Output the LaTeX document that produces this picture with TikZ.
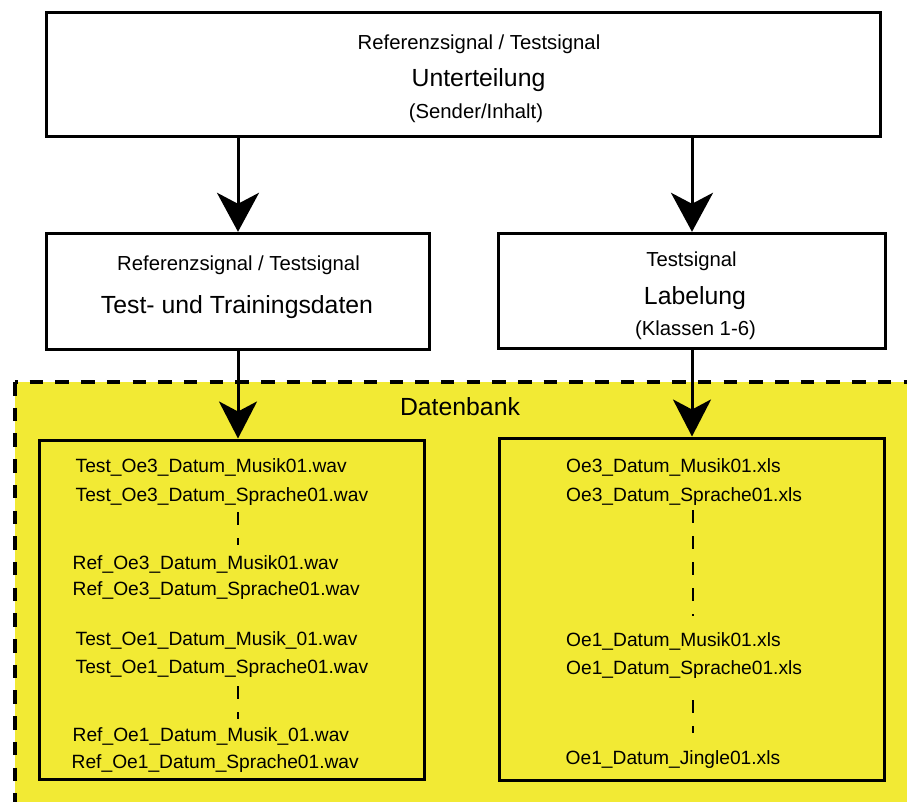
\documentclass[tikz,border=0pt]{standalone}
\usepackage{fontspec}
\setmainfont{Liberation Sans}
\usetikzlibrary{arrows.meta}
\definecolor{dbyellow}{RGB}{242,234,52}

\begin{document}
\begin{tikzpicture}[x=1pt,y=-1pt,
  framebox/.style={draw=black, line width=3pt, inner sep=0pt},
  lbl/.style={inner sep=0pt, anchor=base, font=\fontsize{20.3}{24}\selectfont},
  title/.style={inner sep=0pt, anchor=base, font=\fontsize{24.8}{30}\selectfont},
  fname/.style={inner sep=0pt, anchor=base west, font=\fontsize{19.2}{23}\selectfont},
  flow/.style={line width=3pt, -{Stealth[length=39pt, width=42pt, inset=11pt]}},
  flowin/.style={line width=3pt, -{Stealth[length=37pt, width=38pt, inset=10pt]}},
  dbborder/.style={line width=3.5pt, dash pattern=on 13.5pt off 12.2pt},
  gap/.style={line width=2.6pt, dash pattern=on 13pt off 13pt}]

\useasboundingbox (0,0) rectangle (907,801);

% database area (open towards the right and bottom edges)
\begin{scope}
  \clip (0,0) rectangle (907,801);
  \fill[dbyellow] (15,382) rectangle (940,840);
  \coordinate (dbcorner) at (15,382);
  \coordinate (dbleft) at (15,840);
  \coordinate (dbtop) at (940,382);
  \draw[dbborder] (dbcorner) -- (dbleft);
  \draw[dbborder, dash phase=11pt] (dbcorner) -- (dbtop);
\end{scope}
\node[title] (db) at (460,415.7) {Datenbank};

% processing boxes
\node[framebox, minimum width=833.3pt, minimum height=124.4pt] (split) at (463.4,74.5) {};
\node[framebox, minimum width=382.6pt, minimum height=116pt] (train) at (238,291.3) {};
\node[framebox, minimum width=387.4pt, minimum height=115pt] (label) at (692,290.8) {};

% storage boxes
\node[framebox, minimum width=385pt, minimum height=339pt] (wavs) at (231.5,609.5) {};
\node[framebox, minimum width=385pt, minimum height=342pt] (xlss) at (691.5,609) {};

% box captions
\node[lbl] (splitA) at (479,49.3) {Referenzsignal / Testsignal};
\node[title] (splitB) at (478.5,86.7) {Unterteilung};
\node[lbl] (splitC) at (476,118) {(Sender/Inhalt)};

\node[lbl] (trainA) at (238.5,270) {Referenzsignal / Testsignal};
\node[title] (trainB) at (237,313.3) {Test- und Trainingsdaten};

\node[lbl] (labelA) at (691.5,266) {Testsignal};
\node[title] (labelB) at (695,304.3) {Labelung};
\node[lbl] (labelC) at (695.5,335) {(Klassen 1-6)};

% flow arrows
\draw[flow] (split.south -| train.north) -- (train.north);
\draw[flow] (split.south -| label.north) -- (label.north);
\draw[flowin] (train.south) -- (train.south |- wavs.north);
\draw[flowin] (label.south) -- (label.south |- xlss.north);

% audio files
\node[fname] (w1) at (75.5,472.3) {Test\_Oe3\_Datum\_Musik01.wav};
\node[fname] (w2) at (75.5,501) {Test\_Oe3\_Datum\_Sprache01.wav};
\node[fname] (w3) at (72.5,569.3) {Ref\_Oe3\_Datum\_Musik01.wav};
\node[fname] (w4) at (72.5,595.5) {Ref\_Oe3\_Datum\_Sprache01.wav};
\node[fname] (w5) at (75.5,645) {Test\_Oe1\_Datum\_Musik\_01.wav};
\node[fname] (w6) at (75.5,673.5) {Test\_Oe1\_Datum\_Sprache01.wav};
\node[fname] (w7) at (72.5,741.7) {Ref\_Oe1\_Datum\_Musik\_01.wav};
\node[fname] (w8) at (71.5,768.3) {Ref\_Oe1\_Datum\_Sprache01.wav};

% label files
\node[fname] (x1) at (566,472.7) {Oe3\_Datum\_Musik01.xls};
\node[fname] (x2) at (566,501) {Oe3\_Datum\_Sprache01.xls};
\node[fname] (x3) at (566,646) {Oe1\_Datum\_Musik01.xls};
\node[fname] (x4) at (566,674.3) {Oe1\_Datum\_Sprache01.xls};
\node[fname] (x5) at (565.5,764) {Oe1\_Datum\_Jingle01.xls};

% continuation marks between file groups
\coordinate (wgapAt) at (238,512);
\coordinate (wgapAb) at (238,545);
\coordinate (wgapBt) at (238,686);
\coordinate (wgapBb) at (238,719);
\coordinate (xgapAt) at (693,510);
\coordinate (xgapAb) at (693,616);
\coordinate (xgapBt) at (693,700);
\coordinate (xgapBb) at (693,733);
\draw[gap] (wgapAt) -- (wgapAb);
\draw[gap] (wgapBt) -- (wgapBb);
\draw[gap] (xgapAt) -- (xgapAb);
\draw[gap] (xgapBt) -- (xgapBb);
\end{tikzpicture}
\end{document}
